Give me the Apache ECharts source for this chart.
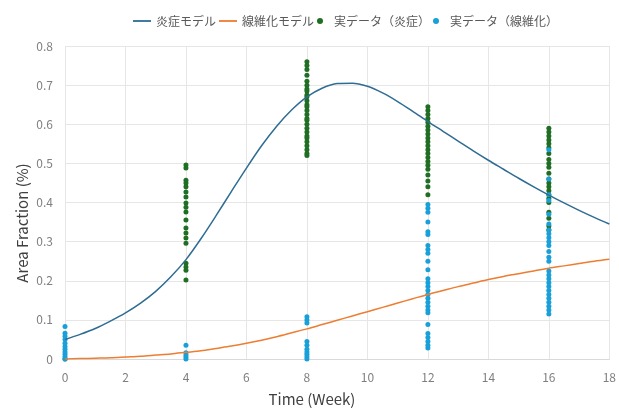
<!DOCTYPE html>
<html><head><meta charset="utf-8">
<script src="https://cdn.jsdelivr.net/npm/echarts@6/dist/echarts.min.js"></script>
<style>html,body{margin:0;padding:0;background:#fff}#c{width:619px;height:408px}</style>
</head><body><div id="c"></div>
<script>
const modelWeeks = [0,0.5,1,1.5,2,2.5,3,3.5,4,4.5,5,5.5,6,6.5,7,7.5,8,8.5,9,9.5,10,10.5,11,11.5,12,12.5,13,13.5,14,14.5,15,15.5,16,16.5,17,17.5,18];
const inflModel = [0.05,0.063,0.078,0.097,0.118,0.143,0.173,0.21,0.254,0.308,0.367,0.428,0.488,0.545,0.595,0.637,0.67,0.692,0.704,0.705,0.697,0.68,0.658,0.633,0.607,0.582,0.557,0.532,0.508,0.485,0.462,0.44,0.419,0.399,0.38,0.362,0.345];
const fibModel  = [0,0.001,0.002,0.003,0.005,0.007,0.01,0.013,0.017,0.021,0.027,0.033,0.04,0.048,0.057,0.067,0.077,0.088,0.099,0.11,0.121,0.132,0.143,0.154,0.165,0.175,0.185,0.194,0.203,0.211,0.218,0.225,0.232,0.238,0.244,0.25,0.255];

const inflW0 = [0.0];
const inflW4 = [0.496,0.488,0.457,0.45,0.44,0.427,0.414,0.399,0.388,0.376,0.355,0.335,0.322,0.309,0.296,0.245,0.235,0.227,0.202];
const inflW8 = [0.76,0.75,0.74,0.725,0.71,0.70,0.69,0.685,0.675,0.67,0.66,0.65,0.645,0.635,0.625,0.615,0.61,0.60,0.59,0.58,0.57,0.565,0.555,0.545,0.535,0.525,0.52];
const inflW12 = [0.645,0.635,0.625,0.615,0.605,0.595,0.585,0.575,0.565,0.555,0.545,0.535,0.525,0.515,0.505,0.495,0.485,0.47,0.455,0.44,0.42];
const inflW16 = [0.59,0.58,0.57,0.56,0.55,0.54,0.525,0.51,0.5,0.49,0.475,0.46,0.45,0.44,0.43,0.42,0.41,0.4,0.375,0.36,0.34,0.33];

const fibW0 = [0.083,0.066,0.058,0.05,0.04,0.032,0.025,0.018,0.012,0.006,0.0];
const fibW4 = [0.035,0.016,0.01,0.005,0.0];
const fibW8 = [0.108,0.1,0.092,0.045,0.035,0.025,0.018,0.012,0.006,0.0];
const fibW12 = [0.395,0.385,0.375,0.35,0.325,0.318,0.29,0.28,0.27,0.25,0.228,0.205,0.195,0.185,0.175,0.165,0.155,0.145,0.135,0.125,0.118,0.088,0.065,0.055,0.045,0.035,0.028];
const fibW16 = [0.535,0.46,0.42,0.405,0.37,0.345,0.33,0.32,0.31,0.3,0.29,0.275,0.26,0.25,0.225,0.215,0.205,0.195,0.185,0.175,0.165,0.155,0.145,0.135,0.125,0.115];

const legendNames = ['炎症モデル','線維化モデル','実データ（炎症）','実データ（線維化）'];
const xTitle = 'Time (Week)';
const yTitle = 'Area Fraction (%)';

function pts(week, arr){ return arr.map(v => [week, v]); }
const inflPts = [].concat(pts(0,inflW0),pts(4,inflW4),pts(8,inflW8),pts(12,inflW12),pts(16,inflW16));
const fibPts = [].concat(pts(0,fibW0),pts(4,fibW4),pts(8,fibW8),pts(12,fibW12),pts(16,fibW16));

const font = '"Noto Sans CJK JP", "Noto Sans", sans-serif';
const chart = echarts.init(document.getElementById('c'), null, {renderer:'canvas'});
const lineIcon = 'path://M0,0 L20,0 L20,2 L0,2 Z';
chart.setOption({
  animation:false,
  textStyle:{fontFamily:font},
  legend:{
    top:10, left:128, itemGap:3, itemWidth:18, itemHeight:6,
    textStyle:{color:'#595959', fontSize:12, fontFamily:font},
    data:[
      {name:legendNames[0], icon:lineIcon},
      {name:legendNames[1], icon:lineIcon},
      {name:legendNames[2], icon:'circle'},
      {name:legendNames[3], icon:'circle'}
    ]
  },
  graphic:[
    {type:'text', position:[312,399], style:{text:xTitle, fill:'#404040', font:'15px ' + font, textAlign:'center', textVerticalAlign:'middle'}},
    {type:'text', rotation:Math.PI/2, position:[22,223], style:{text:yTitle, fill:'#404040', font:'15px ' + font, textAlign:'center', textVerticalAlign:'middle'}}
  ],
  grid:{left:65, right:6, top:46, bottom:49},
  xAxis:{
    type:'value', min:0, max:18, interval:2,
    axisLine:{show:true, lineStyle:{color:'#d9d9d9'}},
    axisTick:{show:false},
    axisLabel:{color:'#7f7f7f', fontSize:12, margin:12},
    splitLine:{show:true, lineStyle:{color:'#e6e6e6'}}
  },
  yAxis:{
    type:'value', min:0, max:0.8, interval:0.1,
    axisLine:{show:false}, axisTick:{show:false},
    axisLabel:{color:'#7f7f7f', fontSize:12, margin:12, formatter:v => (Math.round(v*10)/10).toString()},
    splitLine:{show:true, lineStyle:{color:'#e6e6e6'}}
  },
  series:[
    {name:legendNames[0], type:'line', smooth:0.3, showSymbol:false, z:5,
     lineStyle:{color:'#2e6c93', width:1.5}, itemStyle:{color:'#2e6c93'},
     data:modelWeeks.map((w,i)=>[w,inflModel[i]])},
    {name:legendNames[1], type:'line', smooth:0.3, showSymbol:false, z:5,
     lineStyle:{color:'#ed7d31', width:1.5}, itemStyle:{color:'#ed7d31'},
     data:modelWeeks.map((w,i)=>[w,fibModel[i]])},
    {name:legendNames[2], type:'scatter', symbolSize:5, z:3,
     itemStyle:{color:'#1f6e23', opacity:1}, data:inflPts},
    {name:legendNames[3], type:'scatter', symbolSize:5, z:3,
     itemStyle:{color:'#1aa0d8', opacity:1}, data:fibPts}
  ]
});
</script></body></html>
